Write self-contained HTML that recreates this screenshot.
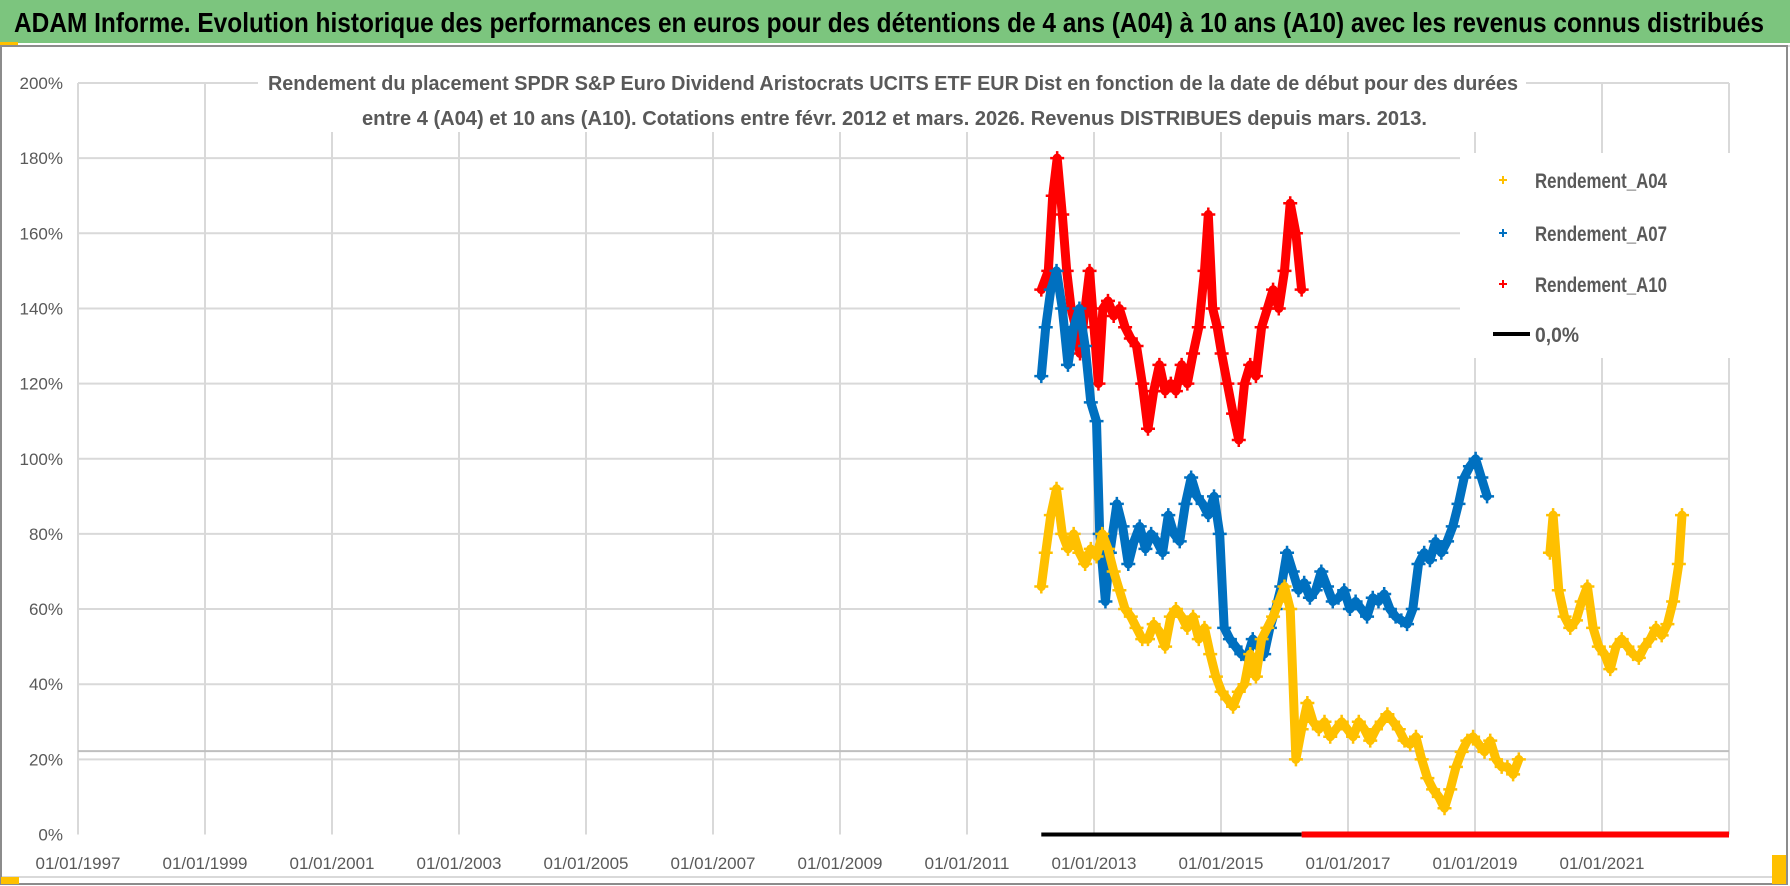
<!DOCTYPE html>
<html><head><meta charset="utf-8"><style>
html,body{margin:0;padding:0;background:#fff;}
svg{display:block;}
text{font-family:"Liberation Sans Narrow","Liberation Sans",sans-serif;}
</style></head><body>
<svg id="chart" width="1790" height="886" viewBox="0 0 1790 886" xmlns="http://www.w3.org/2000/svg">
<rect x="0" y="0" width="1790" height="886" fill="#fff"/>
<rect x="0" y="0" width="1790" height="43" fill="#7cc57e"/>
<rect x="0" y="42" width="18" height="3" fill="#ffc000"/>
<line x1="0" y1="46" x2="1790" y2="46" stroke="#d9d9d9" stroke-width="2"/>
<text x="14" y="32" font-size="28" font-weight="bold" fill="#000" textLength="1750" lengthAdjust="spacingAndGlyphs">ADAM Informe. Evolution historique des performances en euros pour des détentions de 4 ans (A04) à 10 ans (A10) avec les revenus connus distribués</text>
<rect x="1" y="46" width="1786" height="838" fill="none" stroke="#8c8c8c" stroke-width="2"/>
<line x1="2" y1="877" x2="1786" y2="877" stroke="#d9d9d9" stroke-width="2"/>
<rect x="1" y="877" width="18" height="7" fill="#ffc000"/>
<rect x="1772" y="855" width="14" height="29" fill="#ffc000"/>
<g id="grid"></g>
<g id="yaxis"></g>
<g id="xaxis"></g>
<g id="series"></g>
<rect x="258" y="66" width="1268" height="66" fill="#fff"/>
<text x="268" y="90" font-size="20" font-weight="bold" fill="#595959" textLength="1250" lengthAdjust="spacingAndGlyphs">Rendement du placement SPDR S&amp;P Euro Dividend Aristocrats UCITS ETF EUR Dist en fonction de la date de début pour des durées</text>
<text x="362" y="125" font-size="20" font-weight="bold" fill="#595959" textLength="1065" lengthAdjust="spacingAndGlyphs">entre 4 (A04) et 10 ans (A10). Cotations entre févr. 2012 et mars. 2026. Revenus DISTRIBUES depuis mars. 2013.</text>
<g id="legend">
<rect x="1460" y="153" width="300" height="205" fill="#fff"/>
<g><path d="M1499 180h8M1503 176v8" stroke="#ffc000" stroke-width="2"/><text x="1535" y="188" font-size="21" font-weight="bold" fill="#595959" textLength="132" lengthAdjust="spacingAndGlyphs">Rendement_A04</text></g>
<g><path d="M1499 233h8M1503 229v8" stroke="#0070c0" stroke-width="2"/><text x="1535" y="241" font-size="21" font-weight="bold" fill="#595959" textLength="132" lengthAdjust="spacingAndGlyphs">Rendement_A07</text></g>
<g><path d="M1499 284h8M1503 280v8" stroke="#ff0000" stroke-width="2"/><text x="1535" y="292" font-size="21" font-weight="bold" fill="#595959" textLength="132" lengthAdjust="spacingAndGlyphs">Rendement_A10</text></g>
<g><line x1="1493" y1="334" x2="1530" y2="334" stroke="#000" stroke-width="4"/><text x="1535" y="342" font-size="21" font-weight="bold" fill="#595959" textLength="44" lengthAdjust="spacingAndGlyphs">0,0%</text></g>
</g>
</svg>
<script>
const yTicks = [0,20,40,60,80,100,120,140,160,180,200];
const xTickYears = [1997,1999,2001,2003,2005,2007,2009,2011,2013,2015,2017,2019,2021];
const refLineValue = 22.2;
const zeroBlack = [2012.17, 2016.27];
const zeroRed = [2016.27, 2023.0];

const a10Dates = [2012.17,2012.28,2012.35,2012.42,2012.50,2012.57,2012.64,2012.71,2012.78,2012.86,2012.93,2013.00,2013.07,2013.14,2013.22,2013.31,2013.40,2013.49,2013.58,2013.67,2013.76,2013.85,2013.94,2014.03,2014.12,2014.21,2014.29,2014.38,2014.47,2014.56,2014.65,2014.74,2014.80,2014.87,2014.94,2015.01,2015.10,2015.19,2015.28,2015.37,2015.46,2015.55,2015.64,2015.73,2015.82,2015.91,2016.00,2016.09,2016.18,2016.27];
const a10Values = [145,150,170,180,165,150,140,135,128,140,150,135,120,140,142,138,140,135,132,130,120,108,118,125,118,120,118,125,120,128,135,150,165,140,135,128,120,112,105,120,125,122,135,140,145,140,150,168,160,145];

const a07Dates = [2012.17,2012.24,2012.32,2012.41,2012.50,2012.59,2012.68,2012.77,2012.86,2012.95,2013.04,2013.09,2013.18,2013.25,2013.36,2013.45,2013.54,2013.63,2013.72,2013.81,2013.90,2013.99,2014.08,2014.17,2014.26,2014.35,2014.44,2014.53,2014.62,2014.71,2014.80,2014.89,2014.98,2015.05,2015.14,2015.23,2015.32,2015.41,2015.50,2015.59,2015.68,2015.77,2015.86,2015.95,2016.04,2016.13,2016.22,2016.31,2016.40,2016.49,2016.58,2016.67,2016.76,2016.85,2016.94,2017.03,2017.12,2017.21,2017.30,2017.39,2017.48,2017.57,2017.66,2017.75,2017.84,2017.93,2018.02,2018.11,2018.20,2018.29,2018.38,2018.47,2018.56,2018.65,2018.74,2018.83,2018.92,2019.01,2019.10,2019.19];
const a07Values = [122,135,145,150,140,125,135,140,130,115,110,80,62,75,88,82,72,78,82,76,80,78,75,85,80,78,88,95,90,88,85,90,80,55,52,50,48,47,52,50,48,55,60,66,75,70,65,67,63,65,70,66,62,63,65,60,62,60,58,63,62,64,60,58,57,56,60,72,75,73,78,75,78,82,88,95,98,100,95,90];

const a04Dates = [2012.17,2012.24,2012.32,2012.41,2012.50,2012.59,2012.68,2012.77,2012.86,2012.95,2013.04,2013.13,2013.22,2013.31,2013.40,2013.49,2013.58,2013.67,2013.76,2013.85,2013.94,2014.03,2014.12,2014.21,2014.29,2014.38,2014.47,2014.56,2014.65,2014.74,2014.83,2014.92,2015.01,2015.10,2015.19,2015.28,2015.37,2015.46,2015.55,2015.64,2015.73,2015.82,2015.91,2016.00,2016.09,2016.18,2016.27,2016.36,2016.45,2016.54,2016.63,2016.72,2016.81,2016.90,2016.99,2017.08,2017.17,2017.26,2017.35,2017.44,2017.53,2017.62,2017.71,2017.80,2017.89,2017.98,2018.07,2018.16,2018.25,2018.34,2018.43,2018.52,2018.61,2018.70,2018.79,2018.88,2018.97,2019.06,2019.15,2019.24,2019.33,2019.42,2019.51,2019.60,2019.69,2020.18,2020.23,2020.32,2020.41,2020.50,2020.59,2020.68,2020.77,2020.86,2020.95,2021.04,2021.13,2021.22,2021.31,2021.40,2021.49,2021.58,2021.67,2021.76,2021.85,2021.94,2022.03,2022.12,2022.21,2022.26];
const a04Values = [66,75,85,92,80,76,80,75,72,76,74,80,76,70,65,60,58,55,52,52,56,54,50,58,60,58,55,58,52,55,48,42,38,36,34,38,40,48,42,52,55,58,62,66,60,20,28,35,30,28,30,26,28,30,28,26,30,28,25,28,30,32,30,28,25,24,26,20,15,12,10,7,12,18,22,25,26,24,22,25,20,18,18,16,20,75,85,65,58,55,57,62,66,55,50,48,44,50,52,50,48,47,50,52,55,53,56,62,72,85];

const X0 = 78, YEAR_PX = 63.5, Y0 = 834.5, Y200 = 83;
function xScale(d){ return X0 + (d - 1997) * YEAR_PX; }
function yScale(v){ return Y0 - (v / 200) * (Y0 - Y200); }
const NS = 'http://www.w3.org/2000/svg';
function mk(tag, attrs, parent){ const e = document.createElementNS(NS, tag); for (const k in attrs) e.setAttribute(k, attrs[k]); parent.appendChild(e); return e; }

const grid = document.getElementById('grid');
const xRight = xScale(2023);
yTicks.forEach(function(t){
  if (t === 0) return;
  const l = mk('line', {x1: X0, x2: xRight, y1: yScale(t), y2: yScale(t), stroke: '#d9d9d9', 'stroke-width': 2}, grid);
  
  
});
xTickYears.concat([2023]).forEach(function(yr){
  const l = mk('line', {x1: xScale(yr), x2: xScale(yr), y1: Y200, y2: Y0, stroke: '#d9d9d9', 'stroke-width': 2}, grid);
  
  
});
const ref = mk('line', {x1: X0, x2: xRight, y1: yScale(refLineValue), y2: yScale(refLineValue), stroke: '#bfbfbf', 'stroke-width': 2}, grid);



const yaxis = document.getElementById('yaxis');
yTicks.forEach(function(t){
  const tx = mk('text', {x: 63, y: yScale(t) + 6, 'text-anchor': 'end', 'font-size': 17, fill: '#595959'}, yaxis);
  tx.textContent = t + '%';
  
  
});
const xaxis = document.getElementById('xaxis');
xTickYears.forEach(function(yr){
  const tx = mk('text', {x: xScale(yr), y: 869, 'text-anchor': 'middle', 'font-size': 17, fill: '#595959', textLength: 85, lengthAdjust: 'spacingAndGlyphs'}, xaxis);
  tx.textContent = '01/01/' + yr;
  
  
});

const series = document.getElementById('series');
function drawSeries(name, dates, values, color){
  const g = mk('g', {}, series);
  
  
  let pts = [];
  function flush(){
    if (pts.length > 1){
      const pl = mk('polyline', {points: pts.join(' '), fill: 'none', stroke: color, 'stroke-width': 9, 'stroke-linejoin': 'round', 'stroke-linecap': 'round'}, g);
      
      
    }
    pts = [];
  }
  for (let i = 0; i < dates.length; i++){
    if (i > 0 && dates[i] - dates[i-1] > 0.2) flush();
    pts.push(xScale(dates[i]).toFixed(1) + ',' + yScale(values[i]).toFixed(1));
  }
  flush();
  for (let i = 0; i < dates.length; i++){
    const x = xScale(dates[i]), y = yScale(values[i]);
    const p = mk('path', {d: 'M' + (x-7) + ' ' + y + 'h14M' + x + ' ' + (y-7) + 'v14', stroke: color, 'stroke-width': 2.5}, g);
    
    
  }
}
drawSeries('series-a10', a10Dates, a10Values, '#ff0000');
drawSeries('series-a07', a07Dates, a07Values, '#0070c0');
drawSeries('series-a04', a04Dates, a04Values, '#ffc000');

const zb = mk('line', {x1: xScale(zeroBlack[0]), x2: xScale(zeroBlack[1]), y1: yScale(0), y2: yScale(0), stroke: '#000', 'stroke-width': 4}, series);


const zr = mk('line', {x1: xScale(zeroRed[0]), x2: xScale(zeroRed[1]), y1: yScale(0), y2: yScale(0), stroke: '#ff0000', 'stroke-width': 6}, series);


</script>
</body></html>
